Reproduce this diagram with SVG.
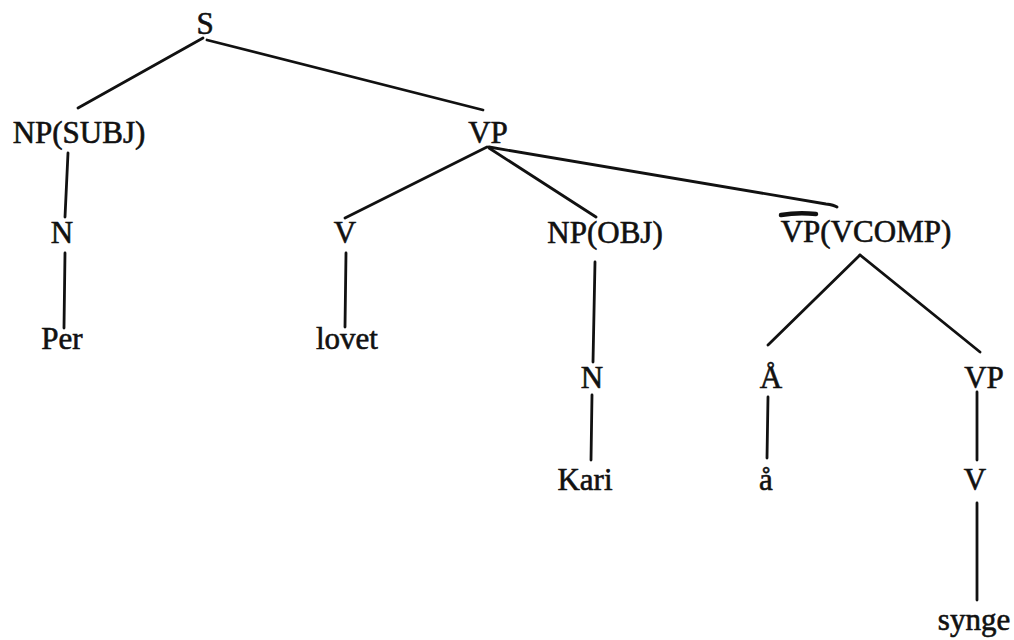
<svg xmlns="http://www.w3.org/2000/svg" width="1014" height="640" viewBox="0 0 1014 640">
  <style>
    .lbl { font-family: "Liberation Serif", "Times New Roman", serif; font-size: 31px; fill: #111; stroke: #111; stroke-width: 0.6; text-anchor: middle; }
    .edge { stroke: #111; stroke-width: 2.8; fill: none; stroke-linecap: round; }
    .bar { stroke: #111; stroke-width: 4.5; fill: none; stroke-linecap: round; }
  </style>
  <rect width="1014" height="640" fill="#fff"/>

  <!-- connectors -->
  <g id="edges">
    <line class="edge" x1="203" y1="38" x2="78" y2="108"/>
    <line class="edge" x1="207" y1="40" x2="483" y2="110"/>
    <line class="edge" x1="68" y1="153" x2="65" y2="217"/>
    <line class="edge" x1="65" y1="253" x2="64" y2="328"/>
    <line class="edge" x1="487" y1="147" x2="345" y2="218"/>
    <line class="edge" x1="346" y1="253" x2="345" y2="327"/>
    <line class="edge" x1="489" y1="148" x2="596" y2="217"/>
    <path class="edge" d="M489 147 L826 204 Q834 205 837 207"/>
    <line class="edge" x1="595" y1="262" x2="593" y2="362"/>
    <line class="edge" x1="592" y1="395" x2="591" y2="460"/>
    <line class="edge" x1="860" y1="255" x2="768" y2="345"/>
    <line class="edge" x1="860" y1="255" x2="980" y2="352"/>
    <line class="edge" x1="768" y1="397" x2="767" y2="458"/>
    <line class="edge" x1="977" y1="392" x2="977" y2="460"/>
    <line class="edge" x1="977" y1="503" x2="977" y2="600"/>
  </g>

  <g id="n-S"><text class="lbl" x="205" y="34">S</text></g>
  <g id="n-NPSUBJ"><text class="lbl" x="79" y="143">NP(SUBJ)</text></g>
  <g id="n-VP"><text class="lbl" x="488" y="143">VP</text></g>
  <g id="n-N1"><text class="lbl" x="62" y="243">N</text></g>
  <g id="n-Per"><text class="lbl" x="62" y="349">Per</text></g>
  <g id="n-V1"><text class="lbl" x="345" y="243">V</text></g>
  <g id="n-lovet"><text class="lbl" x="347" y="349">lovet</text></g>
  <g id="n-NPOBJ"><text class="lbl" x="605" y="243">NP(OBJ)</text></g>
  <g id="n-N2"><text class="lbl" x="592" y="388">N</text></g>
  <g id="n-Kari"><text class="lbl" x="585" y="490">Kari</text></g>
  <g id="n-VCOMP">
    <text class="lbl" x="866" y="242">VP(VCOMP)</text>
    <!-- bar over the first "VP" -->
    <path class="bar" d="M781 215 Q798 212 816 214"/>
  </g>
  <g id="n-AA"><text class="lbl" x="771" y="388">Å</text></g>
  <g id="n-aa"><text class="lbl" x="766" y="490">å</text></g>
  <g id="n-VP2"><text class="lbl" x="984" y="388">VP</text></g>
  <g id="n-V2"><text class="lbl" x="975" y="490">V</text></g>
  <g id="n-synge"><text class="lbl" x="974" y="630">synge</text></g>
</svg>
